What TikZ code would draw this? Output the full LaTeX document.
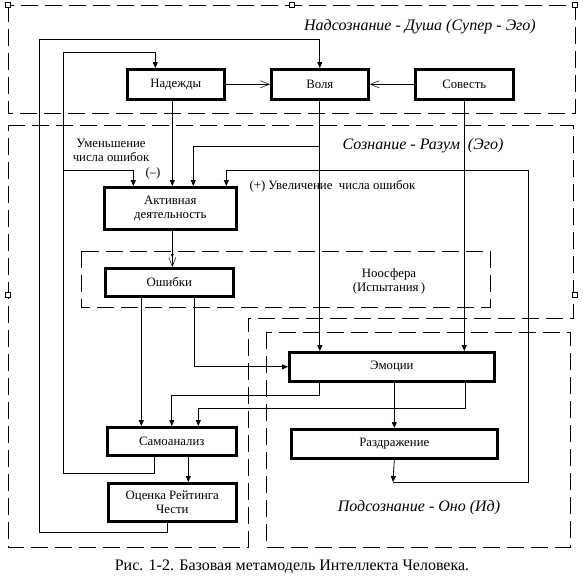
\documentclass[tikz,border=0pt]{standalone}
\usepackage{fontspec}
\setmainfont{Liberation Serif}
\usetikzlibrary{arrows.meta}
\definecolor{inkLine}{HTML}{000000}

\begin{document}
\begin{tikzpicture}[x=1pt,y=-1pt,
          every node/.style={font=\fontsize{12.8pt}{14pt}\selectfont,
                             text=inkLine,align=center},
          blk/.style={draw=inkLine,line width=2.6pt,fill=white,
                      anchor=north west,inner sep=0pt},
          zone/.style={draw=inkLine,line width=0.8pt,
                       dash pattern=on 17pt off 7pt},
          arr/.style={draw=inkLine,line width=0.8pt,
                      -{Triangle[length=6pt,width=5pt]}},
          barb/.style={draw=inkLine,line width=0.8pt,
                       -{Straight Barb[length=9pt,width=7pt,line width=0.5pt]}},
          handle/.style={draw=inkLine,line width=0.6pt,fill=white,
                         minimum size=5pt,inner sep=0pt},
          zonetxt/.style={font=\itshape\fontsize{16pt}{18pt}\selectfont},
        ]
        \fill[white] (0,0) rectangle (583,579);
        \useasboundingbox (0,0) rectangle (583,579);
        % zones
        \draw[zone] (8,5) rectangle (575,113);
        \draw[zone] (8,125) -- (573,125) -- (573,318) -- (248,318)
              -- (248,547) -- (8,547) -- cycle;
        \draw[zone] (266,332) rectangle (570,547);
        \draw[zone] (81,251) rectangle (490,307);
        \node[zonetxt] (tSup) at (420,27) {Надсознание - Душа (Супер - Эго)};
        \node[zonetxt] (tEgo) at (423,146) {Сознание - Разум\ \ (Эго)};
        \node[zonetxt] (tId) at (419,508) {Подсознание - Оно (Ид)};
        \node (tNoo) at (389,281) {Ноосфера\\(Испытания\,)};
        % blocks
        \node[blk,minimum width=97pt,minimum height=30pt] (nad) at (126,68) {Надежды};
        \node[blk,minimum width=97pt,minimum height=30pt] (vol) at (270,68) {Воля};
        \node[blk,minimum width=98pt,minimum height=30pt] (sov) at (414,68) {Совесть};
        \node[blk,minimum width=132pt,minimum height=42pt] (akt) at (103,186)
              {Активная\\деятельность};
        \node[blk,minimum width=128pt,minimum height=28pt] (osh) at (104,267) {Ошибки};
        \node[blk,minimum width=205pt,minimum height=29pt] (emo) at (288,351) {Эмоции};
        \node[blk,minimum width=206pt,minimum height=29pt] (raz) at (290,428) {Раздражение};
        \node[blk,minimum width=129pt,minimum height=28pt] (sam) at (106,426) {Самоанализ};
        \node[blk,minimum width=128pt,minimum height=38pt] (otz) at (107,482)
              {Оценка Рейтинга\\Чести};
        % bend points
        \coordinate (ca1) at (39,532);
        \coordinate (ca2) at (39,39);
        \coordinate (cb1) at (63,473);
        \coordinate (cb2) at (63,52);
        \coordinate (cb3) at (63,170);
        \coordinate (cv1) at (319,146);
        \coordinate (rz) at (393,482);
        \coordinate (cr1) at (528,482);
        \coordinate (cr2) at (528,170);
        % top row
        \draw[barb] (nad.east) -- (vol.west);
        \draw[barb] (sov.west) -- (vol.east);
        \draw[arr] (vol.south) -- (vol.south |- emo.north);
        \draw[arr] (sov.south) -- (sov.south |- emo.north);
        % feedback loops on the left
        \draw[arr] ([xshift=-5pt]otz.south) |- (ca1) -- (ca2) -| (vol.north);
        \draw[arr] ([xshift=-17.5pt]sam.south) |- (cb1) -- (cb2)
              -| ([xshift=-20.5pt]nad.north);
        \draw[arr] (cb3) -| ([xshift=-37pt]akt.north);
        % into active work
        \draw[arr] ([xshift=-3.5pt]nad.south) -- ([xshift=-3.5pt]nad.south |- akt.north);
        \draw[arr] (cv1) -| ([xshift=23pt]akt.north);
        \draw[arr] (raz.south) -- (rz);
        \draw[arr] (rz) -- (cr1) -- (cr2) -| ([xshift=56pt]akt.north);
        \draw[draw=inkLine,line width=0.8pt,
              -{Triangle[length=3pt,width=3pt] Straight Barb[length=9pt,width=7pt,line width=0.5pt]}]
              ([xshift=2pt]akt.south) -- ([xshift=2pt]akt.south |- osh.north);
        % errors, emotions, self-analysis
        \draw[arr] ([xshift=-28pt]osh.south) -- ([xshift=-28pt]osh.south |- sam.north);
        \draw[arr] ([xshift=25pt]osh.south) |- (emo.west);
        \draw[arr] ([xshift=-72.5pt]emo.south) -- ++(0,13) -| (sam.north);
        \draw[arr] ([xshift=73.5pt]emo.south) -- ++(0,26) -| ([xshift=26.5pt]sam.north);
        \draw[arr] ([xshift=2.5pt]emo.south) -- (raz.north);
        \draw[arr] ([xshift=16.5pt]sam.south) -- ([xshift=16.5pt]sam.south |- otz.north);
        % labels
        \node (lMinus) at (111,150) {Уменьшение\\числа ошибок};
        \node (lNeg) at (153,173) {(--)};
        \node[anchor=west] (lPlus) at (246,186) {(+) Увеличение\ \ числа ошибок};
        % selection handles
        \foreach \hx/\hy in {8/5,292/5,575/5,8/295,575/295}
          \node[handle] at (\hx,\hy) {};
        % caption
        \node[font=\fontsize{16pt}{18pt}\selectfont] (cap) at (292,567)
              {Рис. 1-2. Базовая метамодель Интеллекта Человека.};
      \end{tikzpicture}
\end{document}
